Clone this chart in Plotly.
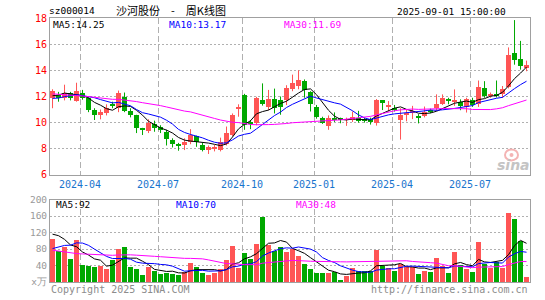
import pandas as pd
import plotly.graph_objects as go

# ---------------- data (weekly K-line, oldest first) ----------------
opens = [11.85, 12.12, 11.9, 12.25, 11.65, 12.25, 11.85, 10.95, 10.6, 10.7,
         11.4, 11.15, 11.95, 10.9, 10.55, 9.57, 9.37, 9.87, 9.65, 9.32,
         8.68, 8.35, 8.25, 8.5, 8.95, 8.3, 7.92, 8.0, 7.92, 8.35,
         9.06, 11.1, 12.15, 10.08, 10.0, 11.7, 11.2, 11.77, 11.7, 11.72,
         12.6, 12.78, 13.2, 12.33, 11.22, 10.38, 9.75, 10.33, 10.28, 10.2,
         10.2, 10.38, 10.25, 10.25, 10.0, 11.7, 11.2, 11.14, 10.2, 10.6,
         10.8, 10.47, 10.47, 10.97, 11.1, 11.4, 11.76, 11.58, 11.6, 11.2,
         11.73, 11.4, 12.62, 12.04, 12.16, 12.16, 12.72, 15.32, 14.89, 14.18]
closes = [12.43, 11.88, 12.27, 11.85, 12.43, 11.9, 10.95, 10.6, 10.78, 11.1,
          11.3, 12.3, 10.9, 10.6, 9.6, 9.45, 9.95, 9.57, 9.4, 8.75,
          8.35, 8.25, 8.55, 9.05, 8.55, 7.92, 8.1, 8.08, 8.55, 9.18,
          10.58, 11.2, 9.85, 9.9, 11.85, 11.42, 11.77, 11.1, 11.2, 12.68,
          13.05, 13.28, 12.46, 11.42, 10.46, 10.0, 10.38, 10.2, 10.2, 10.23,
          10.43, 10.15, 10.15, 10.08, 11.72, 11.47, 11.29, 10.96, 10.58, 10.75,
          10.9, 10.4, 10.82, 10.82, 11.4, 11.86, 11.66, 11.66, 11.28, 11.78,
          11.35, 12.72, 12.04, 12.21, 12.08, 12.54, 15.19, 14.81, 14.31, 14.4]
highs = [12.55, 12.35, 12.9, 12.35, 13.05, 12.5, 11.95, 11.1, 11.0, 11.4,
         11.6, 12.45, 12.3, 11.1, 10.6, 9.6, 10.25, 10.15, 9.8, 9.45,
         8.8, 8.45, 8.8, 9.5, 9.0, 8.45, 8.25, 8.3, 8.85, 9.7,
         10.7, 11.4, 12.2, 10.2, 11.97, 13.0, 12.5, 12.6, 12.0, 12.86,
         13.67, 14.0, 13.3, 12.4, 11.35, 10.45, 10.55, 10.78, 10.38, 10.38,
         10.85, 10.9, 10.38, 10.38, 11.8, 11.72, 11.65, 11.35, 11.1, 11.0,
         11.28, 10.65, 11.23, 11.07, 12.16, 12.16, 11.9, 12.54, 11.78, 11.9,
         11.9, 13.22, 13.17, 12.3, 13.22, 12.8, 15.75, 17.84, 16.25, 14.74]
lows = [11.1, 11.6, 11.7, 11.7, 11.6, 11.75, 10.8, 10.2, 10.25, 10.55,
        11.1, 10.8, 10.8, 10.4, 9.2, 9.05, 9.2, 9.3, 9.2, 8.25,
        8.1, 7.85, 7.9, 8.35, 8.15, 7.8, 7.6, 7.8, 7.8, 8.25,
        8.95, 10.45, 9.45, 9.5, 9.8, 11.3, 10.95, 10.7, 10.6, 11.34,
        12.4, 12.55, 11.9, 10.85, 10.3, 9.9, 9.45, 10.05, 9.95, 9.75,
        10.05, 10.0, 10.0, 9.85, 9.77, 10.96, 10.85, 10.85, 8.7, 10.1,
        10.27, 9.94, 10.4, 10.72, 10.9, 11.35, 11.4, 11.28, 10.95, 10.77,
        11.2, 11.2, 11.9, 11.9, 11.92, 11.9, 12.62, 14.43, 14.05, 13.93]
volumes = [106, 77, 85, 56, 104, 42, 40, 38, 40, 32,
           55, 80, 85, 37, 32, 18, 38, 28, 21, 23,
           21, 18, 26, 48, 37, 23, 18, 24, 32, 54,
           89, 34, 72, 56, 93, 158, 91, 76, 85, 74,
           81, 63, 44, 33, 22, 22, 22, 26, 6, 16,
           34, 27, 29, 29, 78, 40, 35, 27, 45, 38,
           38, 21, 27, 26, 59, 39, 22, 74, 43, 33,
           25, 99, 44, 36, 49, 35, 168, 153, 100, 13]

# estimated weekly history before the first visible week (only feeds the MA lines)
hist_closes = [13.2, 13.1, 13.0, 13.03, 12.8, 12.7, 12.6, 12.5, 12.4, 12.3,
               12.3, 12.2, 12.1, 12.0, 12.0, 11.9, 11.9, 11.8, 11.85, 11.82,
               11.6, 11.2, 10.9, 11.9, 12.65, 11.6, 11.5, 12.2, 12.52]
hist_volumes = [150, 140, 135, 137, 70, 65, 62, 60, 58, 60,
                55, 57, 55, 58, 60, 52, 55, 50, 62, 59,
                40, 45, 50, 48, 47, 95, 130, 124, 125]

# legend values as printed on the chart
price_ma_labels = ["MA5:14.25", "MA10:13.17", "MA30:11.69"]
vol_ma_labels = ["MA5:92", "MA10:70", "MA30:48"]

price_ticks = [6, 8, 10, 12, 14, 16, 18]
vol_ticks = [0, 40, 80, 120, 160, 200]
vol_tick_text = ["x万", "40", "80", "120", "160", "200"]
quarter_months = [1, 4, 7, 10]

# week-ending trading dates
week_ends = list(pd.date_range("2024-03-01", periods=len(closes), freq="W-FRI"))
week_ends[31] = pd.Timestamp("2024-09-30")   # National Day holiday week
week_ends[-1] = pd.Timestamp("2025-09-01")   # current (partial) week

# ---------------- derived ----------------
n = len(closes)
xs = list(range(n))
RED = "#ff5555"
GREEN = "#00a800"
BLUE_TXT = "#1874cd"
GRID = "#b0b0b0"
BORDER = "#a0a0a0"
MONO = "DejaVu Sans Mono"

is_up = [c >= o for o, c in zip(opens, closes)]
colors = [RED if u else GREEN for u in is_up]

cs = pd.Series(hist_closes + closes)
vs = pd.Series(hist_volumes + volumes)
h = len(hist_closes)
ma = {k: cs.rolling(k).mean().iloc[h:].tolist() for k in (5, 10, 30)}
vma = {k: vs.rolling(k).mean().iloc[h:].tolist() for k in (5, 10, 30)}

tick_pos, tick_text = [], []
prev_month = None
for i, d in enumerate(week_ends):
    if d.month != prev_month and d.month in quarter_months and prev_month is not None:
        tick_pos.append(i - 0.42)
        tick_text.append(d.strftime("%Y-%m"))
    prev_month = d.month

fig = go.Figure()

# wicks
for col, flag in ((RED, True), (GREEN, False)):
    wx, wy = [], []
    for i in xs:
        if is_up[i] == flag:
            wx += [i, i, None]
            wy += [lows[i], highs[i], None]
    fig.add_trace(go.Scatter(x=wx, y=wy, mode="lines", line=dict(color=col, width=1),
                             xaxis="x", yaxis="y", hoverinfo="skip"))

# bodies
fig.add_trace(go.Bar(x=xs, y=[max(abs(c - o), 0.06) for o, c in zip(opens, closes)],
                     base=[min(o, c) for o, c in zip(opens, closes)],
                     marker=dict(color=colors, line=dict(width=0)), width=0.82,
                     xaxis="x", yaxis="y"))

# price MAs
for k, col in ((5, "black"), (10, "#0000ff"), (30, "#ff00ff")):
    fig.add_trace(go.Scatter(x=xs, y=ma[k], mode="lines", line=dict(color=col, width=1),
                             xaxis="x", yaxis="y"))

# volume bars
fig.add_trace(go.Bar(x=xs, y=volumes, marker=dict(color=colors, line=dict(width=0)),
                     width=0.82, xaxis="x2", yaxis="y2"))
for k, col in ((5, "black"), (10, "#0000ff"), (30, "#ff00ff")):
    fig.add_trace(go.Scatter(x=xs, y=vma[k], mode="lines", line=dict(color=col, width=1),
                             xaxis="x2", yaxis="y2"))

L, R, T, B = 50, 15, 18, 15
W, H = 545, 300
PW, PH = W - L - R, H - T - B


def px(x):
    return (x - L) / PW


def py(y):
    return (H - B - y) / PH


xcommon = dict(range=[-0.42, n - 0.42], tickvals=tick_pos, showgrid=True, gridcolor=GRID,
               griddash="6px,3px", gridwidth=1, showline=True, linecolor=BORDER, linewidth=1,
               mirror=True, zeroline=False, ticks="")
ycommon = dict(showgrid=True, gridcolor=GRID, griddash="2px,2px", gridwidth=1, showline=True,
               linecolor=BORDER, linewidth=1, mirror=True, zeroline=False, ticks="")

fig.update_layout(
    width=W, height=H, margin=dict(l=L, r=R, t=T, b=B),
    paper_bgcolor="white", plot_bgcolor="white", showlegend=False, bargap=0,
    font=dict(family=MONO, size=10),
    xaxis=dict(**xcommon, anchor="y", ticktext=tick_text,
               tickfont=dict(family=MONO, size=10, color=BLUE_TXT)),
    xaxis2=dict(**xcommon, anchor="y2", matches="x", showticklabels=False),
    yaxis=dict(**ycommon, domain=[py(176.7), 1], range=[6, 18], tickvals=price_ticks,
               tickfont=dict(family=MONO, size=10, color="#ff0000")),
    yaxis2=dict(**ycommon, domain=[0, py(201.6)], range=[0, 200], tickvals=vol_ticks,
                ticktext=vol_tick_text, tickfont=dict(family=MONO, size=9.5, color="#999999")),
)


def ann(text, x, y, color, size=9.5, xanchor="left", family=MONO, **kw):
    return dict(text=text, x=px(x), y=py(y), xref="paper", yref="paper",
                xanchor=xanchor, yanchor="middle", showarrow=False,
                font=dict(family=family, size=size, color=color, **kw))


IS = "\u3000"  # ideographic space
annots = [
    ann("sz000014", 46.5, 10.5, "black"),
    ann(f"沙河股份{IS}-{IS}周K线图", 114, 9.5, "black", size=11,
        family="Noto Sans CJK SC"),
    ann("2025-09-01 15:00:00", 508, 11, "black", xanchor="right"),
    ann(price_ma_labels[0], 51, 24.5, "black"),
    ann(price_ma_labels[1], 166.5, 24.5, "#0000ff"),
    ann(price_ma_labels[2], 281.5, 24.5, "#ff00ff"),
    ann(vol_ma_labels[0], 53.5, 206.5, "black"),
    ann(vol_ma_labels[1], 173.5, 206.5, "#0000ff"),
    ann(vol_ma_labels[2], 293.5, 206.5, "#ff00ff"),
    ann("Copyright 2025 SINA.COM", 49, 293, "#8c8c8c", size=10),
    ann("http://finance.sina.com.cn", 530, 293, "#8c8c8c", size=10, xanchor="right"),
    ann("sina", 513, 166.5, "#c4c4c4", size=14, xanchor="center", family="DejaVu Sans",
        style="italic", weight="bold"),
]
fig.update_layout(annotations=annots)

# small sina "eye" logo above the watermark text
fig.add_shape(type="circle", xref="paper", yref="paper", x0=px(505), x1=px(518),
              y0=py(162), y1=py(151), line=dict(color="#f4b4b4", width=2),
              fillcolor="rgba(0,0,0,0)")
fig.add_shape(type="circle", xref="paper", yref="paper", x0=px(509.5), x1=px(513.5),
              y0=py(158.5), y1=py(154.5), line=dict(width=0), fillcolor="#f4b4b4")

fig.write_html("out.html")
